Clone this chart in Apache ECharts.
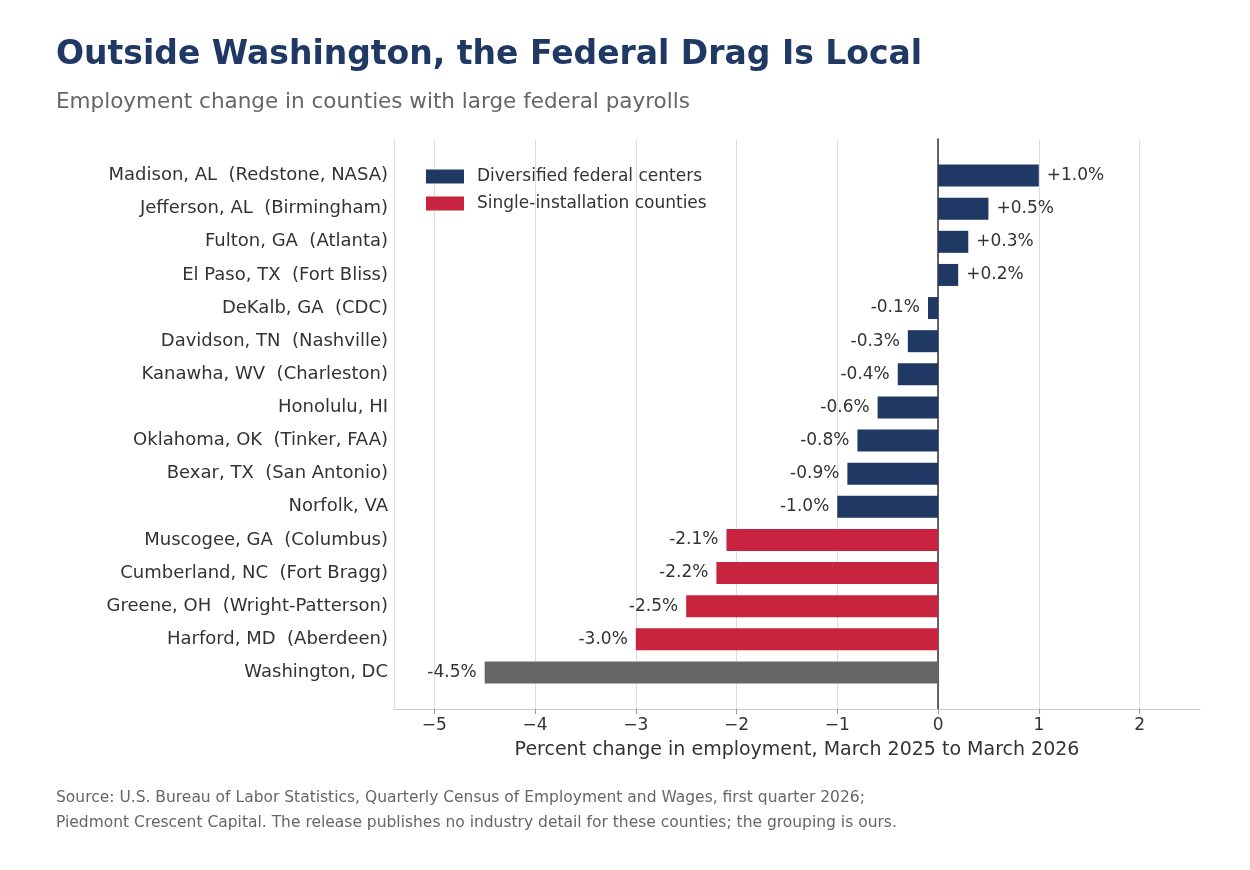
<!DOCTYPE html>
<html><head><meta charset="utf-8">
<script src="https://cdn.jsdelivr.net/npm/echarts@6/dist/echarts.min.js"></script>
<style>body{margin:0;background:#fff}#main{width:1250px;height:870px}</style>
</head><body><div id="main"></div>
<script>
// data
var counties = ['Madison, AL  (Redstone, NASA)','Jefferson, AL  (Birmingham)','Fulton, GA  (Atlanta)','El Paso, TX  (Fort Bliss)','DeKalb, GA  (CDC)','Davidson, TN  (Nashville)','Kanawha, WV  (Charleston)','Honolulu, HI','Oklahoma, OK  (Tinker, FAA)','Bexar, TX  (San Antonio)','Norfolk, VA','Muscogee, GA  (Columbus)','Cumberland, NC  (Fort Bragg)','Greene, OH  (Wright-Patterson)','Harford, MD  (Aberdeen)','Washington, DC'];
var changes = [1.0,0.5,0.3,0.2,-0.1,-0.3,-0.4,-0.6,-0.8,-0.9,-1.0,-2.1,-2.2,-2.5,-3.0,-4.5];
var groups = ['div','div','div','div','div','div','div','div','div','div','div','single','single','single','single','dc'];
var xTicks = [-5,-4,-3,-2,-1,0,1,2];

var myChart = echarts.init(document.getElementById('main'));

function pick(g){
  return changes.map(function(v,i){
    if(groups[i]!==g) return '-';
    return {value:v,label:{position:v>=0?'right':'left'}};
  });
}
function fmt(p){ var v=p.value; return (v>0?'+':'')+v.toFixed(1)+'%'; }
var lbl = {show:true,formatter:fmt,fontSize:17,color:'#333',distance:8,fontFamily:'DejaVu Sans'};

var option = {
  textStyle:{fontFamily:'DejaVu Sans'},
  title:[{text:'Outside Washington, the Federal Drag Is Local',left:51,top:34,
          textStyle:{fontSize:33,fontWeight:'bold',color:'#1f3864'}},
         {text:'Employment change in counties with large federal payrolls',left:51,top:86,
          textStyle:{fontSize:21.5,fontWeight:'normal',color:'#666'}}],
  legend:{data:['Diversified federal centers','Single-installation counties'],orient:'vertical',
          left:421,top:163,itemWidth:38,itemHeight:14,itemGap:10,
          textStyle:{fontSize:17,color:'#333',padding:[0,0,0,8]},icon:'rect'},
  grid:[{left:394,right:50,top:159,bottom:181},
        {left:394,right:50,top:139,bottom:161}],
  xAxis:[{type:'value',gridIndex:0,min:-5.4,max:2.6,show:false,splitLine:{show:false}},
    {type:'value',gridIndex:1,min:-5.4,max:2.6,
    name:'Percent change in employment, March 2025 to March 2026',nameLocation:'middle',nameGap:32,
    nameTextStyle:{fontSize:19,color:'#333'},
    axisLine:{show:true,onZero:false,lineStyle:{color:'#ccc'}},
    axisTick:{show:true,customValues:xTicks,lineStyle:{color:'#999'}},
    axisLabel:{customValues:xTicks,fontSize:17,color:'#333',
      formatter:function(v){return v<0?'\u2212'+Math.abs(v):String(v);}},
    splitLine:{show:true,lineStyle:{color:'#ddd'}}}],
  yAxis:[{type:'category',gridIndex:0,data:counties,inverse:true,
    axisLine:{show:false},axisTick:{show:false},
    axisLabel:{fontSize:18,color:'#333',margin:6}},
    {type:'value',gridIndex:1,min:0,max:1,axisLabel:{show:false},axisTick:{show:false},splitLine:{show:false},
     axisLine:{show:true,onZero:true,lineStyle:{color:'#333',width:1.5}}},
    {type:'value',gridIndex:1,min:0,max:1,position:'left',axisLabel:{show:false},axisTick:{show:false},splitLine:{show:false},
     axisLine:{show:true,onZero:false,lineStyle:{color:'#ddd'}}}],
  series:[
    {name:'Diversified federal centers',type:'bar',stack:'a',barWidth:22,itemStyle:{color:'#1f3864'},label:lbl,data:pick('div'),z:3},
    {name:'Single-installation counties',type:'bar',stack:'a',barWidth:22,itemStyle:{color:'#c9243f'},label:lbl,data:pick('single'),z:3},
    {name:'Washington, DC',type:'bar',stack:'a',barWidth:22,itemStyle:{color:'#666'},label:lbl,data:pick('dc'),z:3}
  ],
  graphic:[{type:'text',left:56,top:785,style:{text:'Source: U.S. Bureau of Labor Statistics, Quarterly Census of Employment and Wages, first quarter 2026;\nPiedmont Crescent Capital. The release publishes no industry detail for these counties; the grouping is ours.',
    fontSize:15.5,lineHeight:25,fill:'#666',fontFamily:'DejaVu Sans'}}]
};
myChart.setOption(option);
</script></body></html>
